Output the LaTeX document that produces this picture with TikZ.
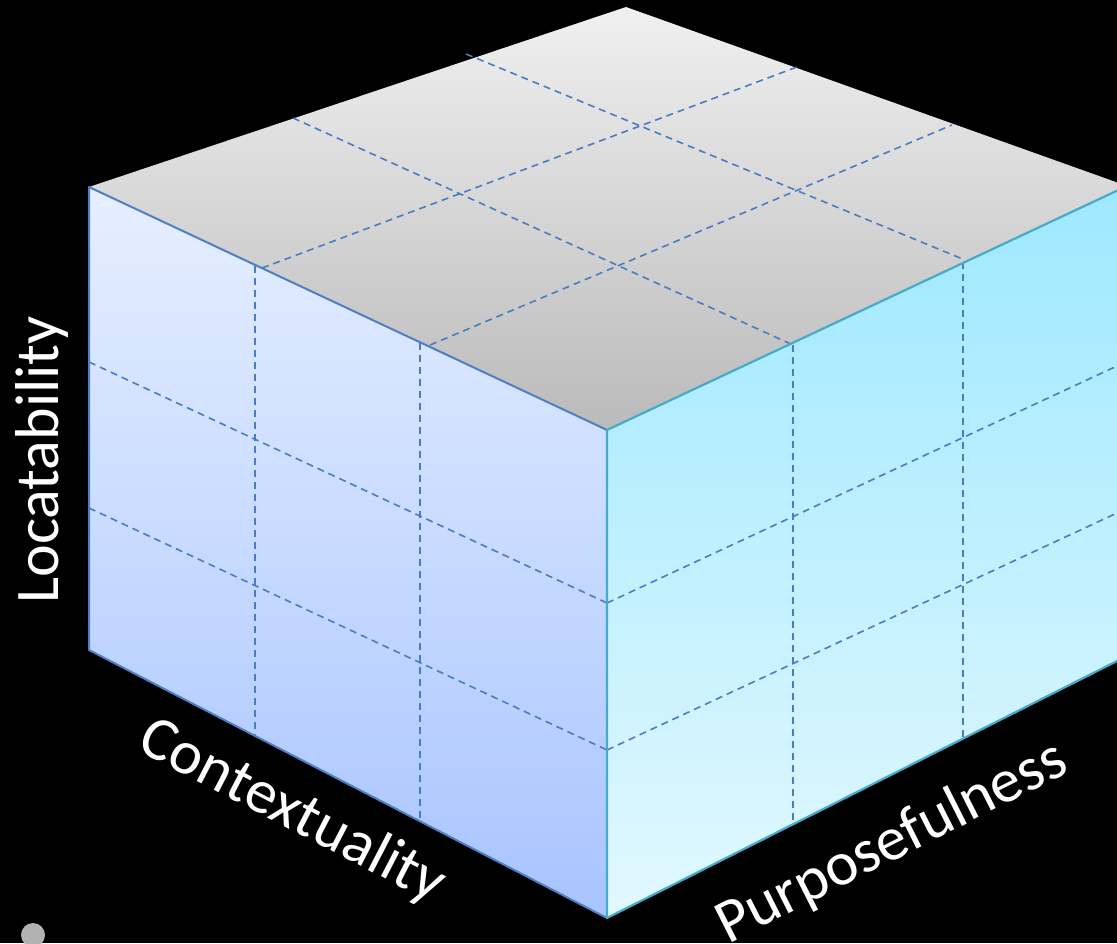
\documentclass[tikz,border=0pt]{standalone}
\usepackage{fontspec}
\setmainfont{Carlito}
\definecolor{gridblue}{HTML}{4A7CC4}
\definecolor{leftedge}{HTML}{4F7FC3}
\definecolor{rightedge}{HTML}{46AAC8}
\begin{document}
\begin{tikzpicture}[x=1pt,y=-1pt,
  gridline/.style={gridblue, line width=1.6pt, dash pattern=on 7pt off 5pt},
  axislabel/.style={text=white, font=\fontsize{62}{70}\selectfont, inner sep=0pt}]
\fill[black] (0,0) rectangle (1117,943);
\useasboundingbox (0,0) rectangle (1117,943);
\clip (0,0) rectangle (1117,943);
% vertices
\coordinate (TB) at (626,7);
\coordinate (TL) at (89,187);
\coordinate (TF) at (607,430);
\coordinate (TR) at (1127,186);
\coordinate (BL) at (89,650);
\coordinate (BF) at (607,918);
\coordinate (BR) at (1127,656);
% faces
\shade[top color={rgb,255:red,240;green,240;blue,240}, bottom color={rgb,255:red,186;green,186;blue,186}]
  (TL) -- (TB) -- (TR) -- (TF) -- cycle;
\shade[top color={rgb,255:red,230;green,239;blue,255}, bottom color={rgb,255:red,168;green,196;blue,255}]
  (TL) -- (TF) -- (BF) -- (BL) -- cycle;
\shade[top color={rgb,255:red,158;green,232;blue,255}, bottom color={rgb,255:red,226;green,248;blue,254}]
  (TF) -- (TR) -- (BR) -- (BF) -- cycle;
% grid points
\coordinate (a1) at (293,118); \coordinate (a1e) at (793,345);
\coordinate (a2) at (466,54);  \coordinate (a2e) at (965,260);
\coordinate (b1) at (262,268); \coordinate (b1e) at (797,67);
\coordinate (b2) at (430,345); \coordinate (b2e) at (952,125);
\coordinate (v1) at (255,266); \coordinate (v1e) at (255,736);
\coordinate (v2) at (420,343); \coordinate (v2e) at (420,821);
\coordinate (h1) at (89,362);  \coordinate (h1e) at (607,603);
\coordinate (h2) at (89,508);  \coordinate (h2e) at (607,750);
\coordinate (v3) at (793,345); \coordinate (v3e) at (793,825);
\coordinate (v4) at (963,262); \coordinate (v4e) at (963,739);
\coordinate (h3e) at (1117,366);
\coordinate (h4e) at (1117,513);
% grid lines
\draw[gridline] (a1) -- (a1e);
\draw[gridline] (a2) -- (a2e);
\draw[gridline] (b1) -- (b1e);
\draw[gridline] (b2) -- (b2e);
\draw[gridline] (v1) -- (v1e);
\draw[gridline] (v2) -- (v2e);
\draw[gridline] (h1) -- (h1e);
\draw[gridline] (h2) -- (h2e);
\draw[gridline] (v3) -- (v3e);
\draw[gridline] (v4) -- (v4e);
\draw[gridline] (h1e) -- (h3e);
\draw[gridline] (h2e) -- (h4e);
% edges
\draw[leftedge, line width=2pt, line join=round] (BF) -- (BL) -- (TL) -- (TF);
\draw[rightedge, line width=2.2pt, line join=round] (TR) -- (TF) -- (BF) -- (BR);
% labels
\node[axislabel, rotate=90] (loc) at (42,460) {Locatability};
\node[axislabel, rotate=-27.4] (ctx) at (292,812) {Contextuality};
\node[axislabel, rotate=26.8] (pur) at (892,843) {Purposefulness};
% dot
\fill[gray!60] (33,935) circle (12);
\end{tikzpicture}
\end{document}
